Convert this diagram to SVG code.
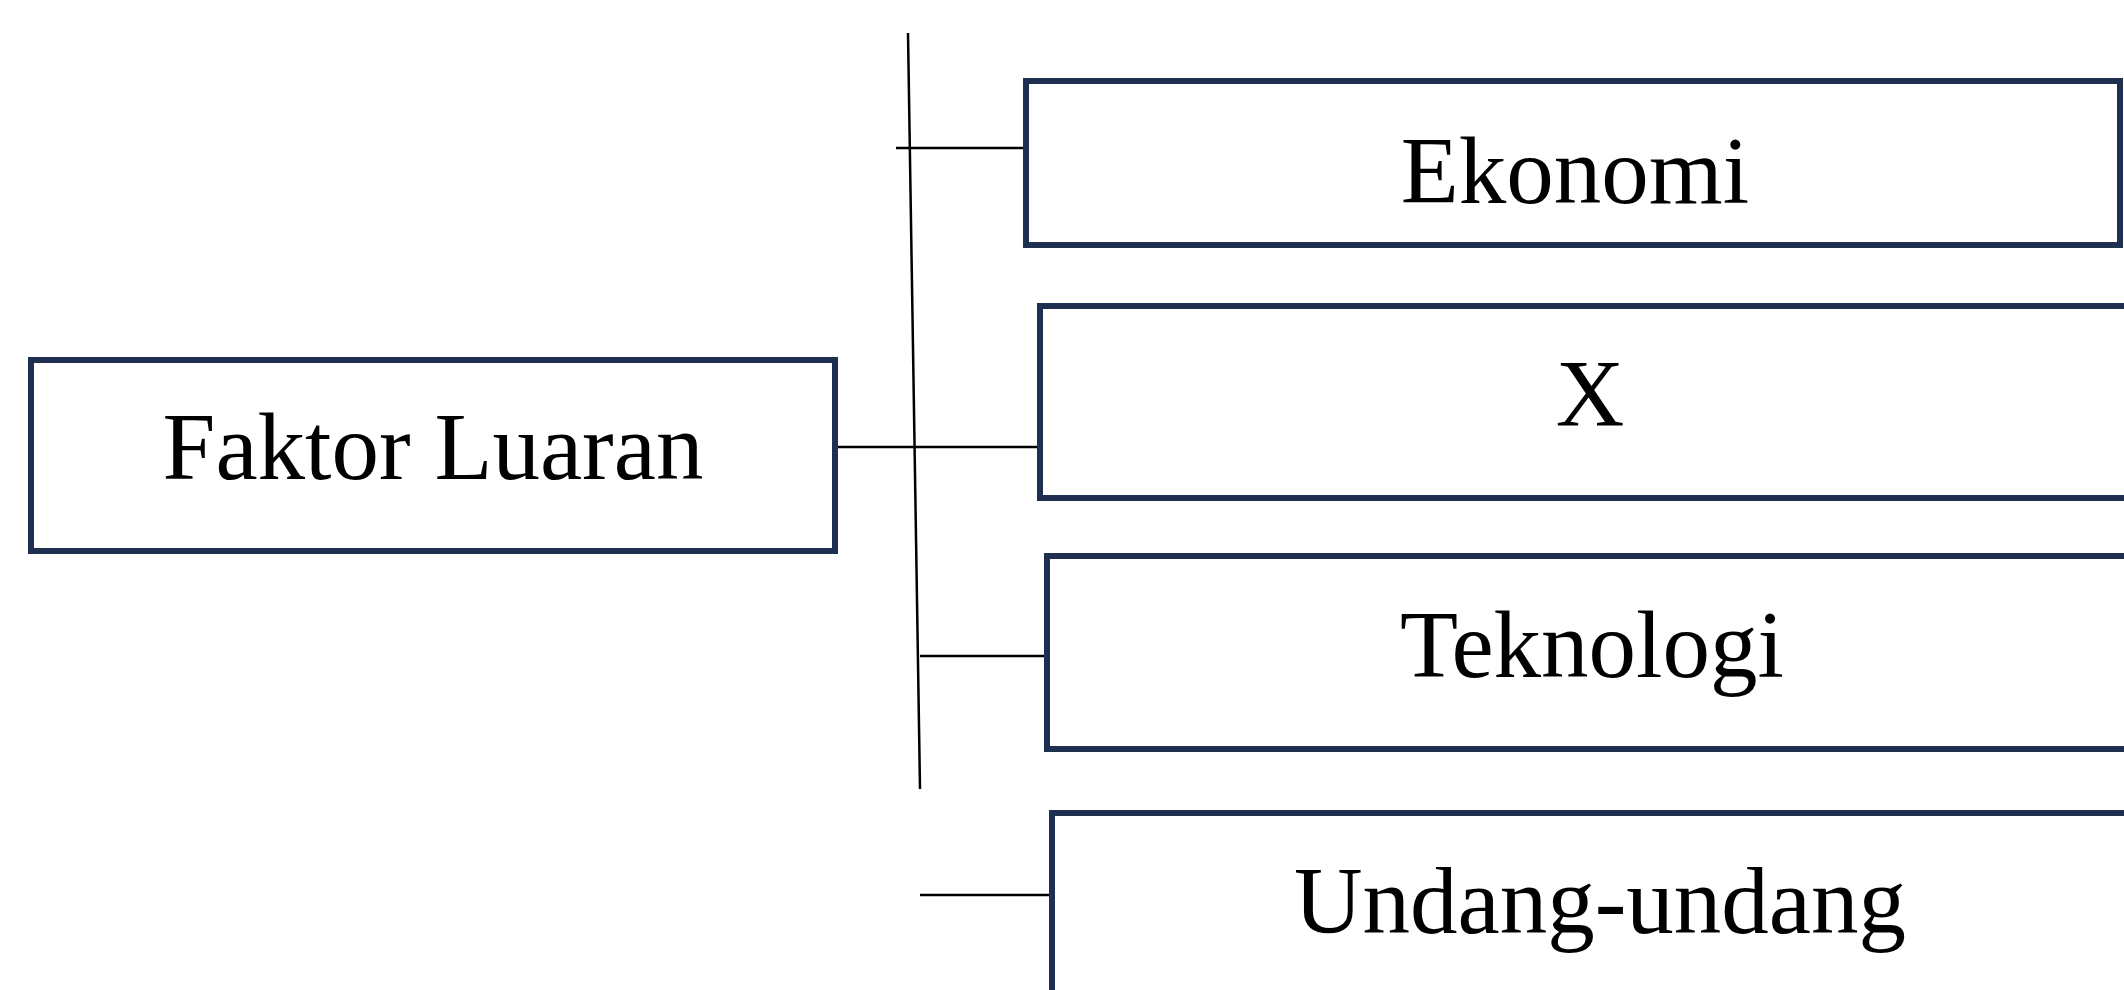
<svg xmlns="http://www.w3.org/2000/svg" width="2124" height="990" viewBox="0 0 2124 990">
<style>
.box{fill:#ffffff;stroke:#1f2f4f;stroke-width:6}
.lbl{font-family:"Liberation Serif","Times New Roman",serif;font-size:95px;fill:#000000;text-anchor:middle}
.con{stroke:#000000;stroke-width:2.5;fill:none}
</style>
<rect width="2124" height="990" fill="#ffffff"/>
<g id="connectors">
<line class="con" x1="908" y1="33" x2="920" y2="789"/>
<line class="con" x1="896" y1="148" x2="1024" y2="148"/>
<line class="con" x1="826" y1="447" x2="1038" y2="447"/>
<line class="con" x1="920" y1="656" x2="1045" y2="656"/>
<line class="con" x1="920" y1="895" x2="1050" y2="895"/>
</g>
<g id="faktor-luaran">
<rect class="box" x="31" y="360" width="804" height="191"/>
<text class="lbl" x="433" y="479">Faktor Luaran</text>
</g>
<g id="ekonomi">
<rect class="box" x="1026" y="81" width="1094" height="164"/>
<text class="lbl" x="1575" y="203">Ekonomi</text>
</g>
<g id="x">
<rect class="box" x="1040" y="306" width="1200" height="192"/>
<text class="lbl" x="1590" y="426">X</text>
</g>
<g id="teknologi">
<rect class="box" x="1047" y="556" width="1200" height="193"/>
<text class="lbl" x="1592" y="677">Teknologi</text>
</g>
<g id="undang-undang">
<rect class="box" x="1052" y="813" width="1200" height="300"/>
<text class="lbl" x="1600" y="933">Undang-undang</text>
</g>
</svg>
